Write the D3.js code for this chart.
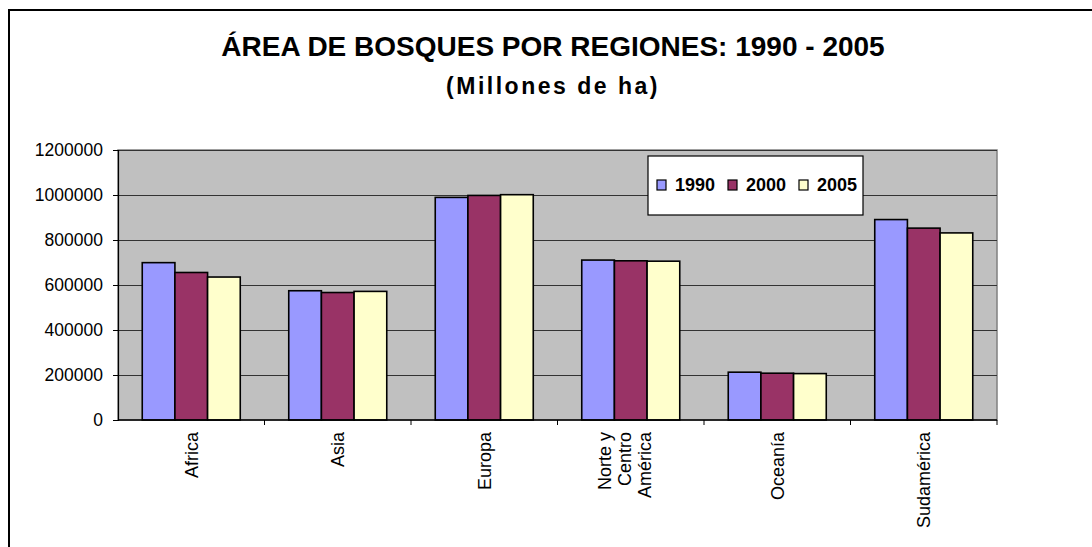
<!DOCTYPE html>
<html>
<head>
<meta charset="utf-8">
<script src="https://cdn.jsdelivr.net/npm/d3@7"></script>
<style>
  html, body { margin: 0; padding: 0; background: #fff; }
  svg { display: block; font-family: "Liberation Sans", Arial, sans-serif; }
</style>
</head>
<body>
<svg id="chart" width="1092" height="547"></svg>
<script>
// ---- data ----
const categories = ["Africa", "Asia", "Europa", "Norte y Centro América", "Oceanía", "Sudamérica"];
const categoryLines = [["Africa"], ["Asia"], ["Europa"], ["Norte y", "Centro", "América"], ["Oceanía"], ["Sudamérica"]];
const years = ["1990", "2000", "2005"];
const values1990 = [699361, 574487, 989320, 710790, 212514, 890818];
const values2000 = [655613, 566562, 998091, 707514, 208034, 852796];
const values2005 = [635412, 571577, 1001394, 705849, 206254, 831540];
const yTicks = [0, 200000, 400000, 600000, 800000, 1000000, 1200000];
const seriesColors = ["#9999FF", "#993366", "#FFFFCC"];
const titleText = "ÁREA DE BOSQUES POR REGIONES: 1990 - 2005";
const subtitleText = "(Millones de ha)";

const seriesValues = [values1990, values2000, values2005];
const table = categories.map((c, i) => ({
  cat: c, lines: categoryLines[i],
  vals: years.map((y, j) => ({ year: y, value: seriesValues[j][i], color: seriesColors[j] }))
}));

// ---- layout ----
const svg = d3.select("#chart");
const plot = { left: 118, right: 997, top: 150, bottom: 420 };

// outer frame
svg.append("rect").attr("x", 9).attr("y", 10).attr("width", 1100).attr("height", 560)
  .attr("fill", "#fff").attr("stroke", "#000").attr("stroke-width", 2);

// titles
svg.append("text").attr("x", 553).attr("y", 56).attr("text-anchor", "middle")
  .attr("font-size", 28).attr("font-weight", "bold").text(titleText);
svg.append("text").attr("x", 553).attr("y", 94).attr("text-anchor", "middle")
  .attr("font-size", 23).attr("font-weight", "bold").attr("letter-spacing", 2.5).text(subtitleText);

const x0 = d3.scaleBand().domain(categories).range([plot.left, plot.right])
  .paddingInner(0.331).paddingOuter(0.1655);
const x1 = d3.scaleBand().domain(years).range([0, x0.bandwidth()]);
const y = d3.scaleLinear().domain([0, 1200000]).range([plot.bottom, plot.top]);

// plot background
svg.append("rect").attr("x", plot.left).attr("y", plot.top)
  .attr("width", plot.right - plot.left).attr("height", plot.bottom - plot.top)
  .attr("fill", "#C0C0C0").attr("stroke", "#808080").attr("stroke-width", 1.5);

// gridlines
svg.append("g").selectAll("line").data(yTicks.filter(t => t > 0)).join("line")
  .attr("x1", plot.left).attr("x2", plot.right)
  .attr("y1", d => Math.round(y(d)) + 0.5).attr("y2", d => Math.round(y(d)) + 0.5)
  .attr("stroke", "#333").attr("stroke-width", 1.2);

// bars
const groups = svg.append("g").selectAll("g").data(table).join("g")
  .attr("transform", d => `translate(${x0(d.cat)},0)`);
groups.selectAll("rect").data(d => d.vals).join("rect")
  .attr("x", d => x1(d.year)).attr("width", x1.bandwidth())
  .attr("y", d => y(d.value)).attr("height", d => y(0) - y(d.value))
  .attr("fill", d => d.color).attr("stroke", "#000").attr("stroke-width", 1.6);

// y axis
const yAxis = svg.append("g").attr("transform", `translate(${plot.left},0)`)
  .call(d3.axisLeft(y).tickValues(yTicks).tickSize(5).tickPadding(10).tickFormat(d3.format("d")));
yAxis.select(".domain").attr("stroke", "#000").attr("stroke-width", 1.2);
yAxis.selectAll(".tick line").attr("stroke", "#000");
yAxis.selectAll("text").attr("font-size", 17.5).attr("font-family", "Liberation Sans, Arial, sans-serif").attr("fill", "#000");

// x axis line + ticks at category boundaries
const step = x0.step();
const boundaries = categories.map(c => x0(c) - step * x0.paddingInner() / 2).concat([plot.right]);
svg.append("line").attr("x1", plot.left).attr("x2", plot.right)
  .attr("y1", plot.bottom).attr("y2", plot.bottom).attr("stroke", "#000").attr("stroke-width", 1.5);
svg.append("g").selectAll("line").data(boundaries.slice(1)).join("line")
  .attr("x1", d => d).attr("x2", d => d).attr("y1", plot.bottom).attr("y2", plot.bottom + 5)
  .attr("stroke", "#000");

// x labels (rotated)
const lblG = svg.append("g").selectAll("g").data(table).join("g")
  .attr("transform", d => `translate(${x0(d.cat) + x0.bandwidth() / 2},0)`);
lblG.each(function(d) {
  const n = d.lines.length;
  d3.select(this).selectAll("text").data(d.lines).join("text")
    .attr("transform", (l, i) => `translate(${(i - (n - 1) / 2) * 20 - (n > 1 ? 6 : 0)},432) rotate(-90)`)
    .attr("text-anchor", "end").attr("dy", "0.35em")
    .attr("font-size", 18).text(l => l);
});

// legend
const lg = svg.append("g").attr("transform", "translate(648,156)");
lg.append("rect").attr("width", 215).attr("height", 59).attr("fill", "#fff")
  .attr("stroke", "#000").attr("stroke-width", 1.2);
const itemX = [9, 80, 151];
const li = lg.selectAll("g.item").data(years).join("g").attr("class", "item")
  .attr("transform", (d, i) => `translate(${itemX[i]},24)`);
li.append("rect").attr("width", 9).attr("height", 10).attr("fill", (d, i) => seriesColors[i])
  .attr("stroke", "#000").attr("stroke-width", 1.2);
li.append("text").attr("x", 18).attr("y", 11).attr("font-size", 18).attr("font-weight", "bold").text(d => d);
</script>
</body>
</html>
